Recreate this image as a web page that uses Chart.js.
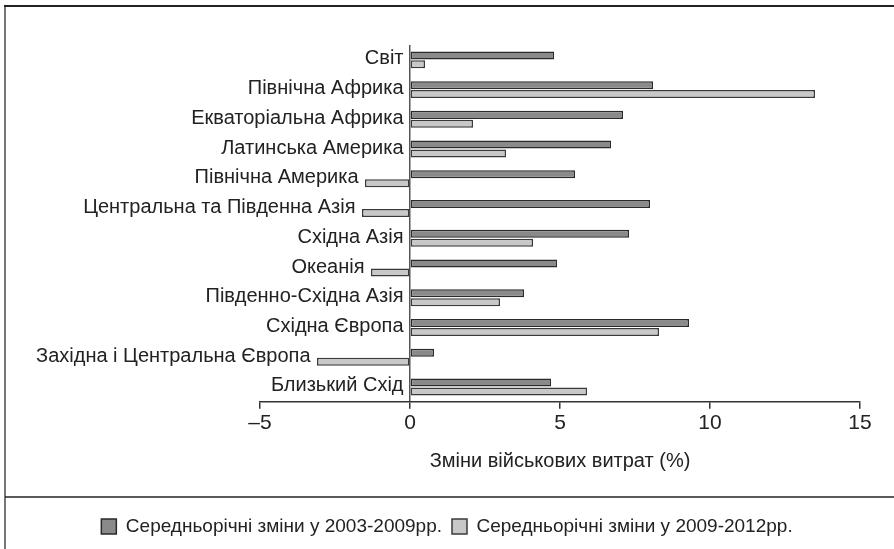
<!DOCTYPE html>
<html>
<head>
<meta charset="utf-8">
<script src="https://cdn.jsdelivr.net/npm/chart.js@4"></script>
<style>
  html, body { margin: 0; padding: 0; background: #fff; }
  #wrap { position: relative; width: 894px; height: 549px; }
</style>
</head>
<body>
<div id="wrap"><canvas id="myChart" width="894" height="549"></canvas></div>
<script>
// data
const regions = [
    'Світ',
    'Північна Африка',
    'Екваторіальна Африка',
    'Латинська Америка',
    'Північна Америка',
    'Центральна та Південна Азія',
    'Східна Азія',
    'Океанія',
    'Південно-Східна Азія',
    'Східна Європа',
    'Західна і Центральна Європа',
    'Близький Схід'
];
const change2003_2009 = [4.8, 8.1, 7.1, 6.7, 5.5, 8.0, 7.3, 4.9, 3.8, 9.3, 0.8, 4.7];
const change2009_2012 = [0.5, 13.5, 2.1, 3.2, -1.5, -1.6, 4.1, -1.3, 3.0, 8.3, -3.1, 5.9];
const seriesNames = ['Середньорічні зміни у 2003-2009рр.', 'Середньорічні зміни у 2009-2012рр.'];
const xTicks = [-5, 0, 5, 10, 15];
const xTitle = 'Зміни військових витрат (%)';

const FONT = "'Liberation Sans Narrow', 'Arial Narrow', 'Liberation Sans', Arial, sans-serif";
const INK = '#222';

// frame lines around the figure and the separator above the legend
const framePlugin = {
    id: 'frame',
    beforeDraw(chart) {
        const c = chart.ctx;
        c.save();
        c.strokeStyle = '#777';
        c.lineWidth = 2;
        c.beginPath();
        c.moveTo(5, 6);
        c.lineTo(5, 549);
        c.stroke();
        c.strokeStyle = '#222';
        c.beginPath();
        c.moveTo(4, 6);
        c.lineTo(894, 6);
        c.stroke();
        c.lineWidth = 1.5;
        c.beginPath();
        c.moveTo(5, 497);
        c.lineTo(894, 497);
        c.stroke();
        c.restore();
    }
};

// category labels sit just left of the zero line or of a negative bar
const labelPlugin = {
    id: 'catLabels',
    afterDatasetsDraw(chart) {
        const c = chart.ctx;
        const xs = chart.scales.x;
        const ys = chart.scales.y;
        c.save();
        c.font = '20px ' + FONT;
        c.fillStyle = INK;
        c.textAlign = 'right';
        c.textBaseline = 'middle';
        regions.forEach((name, i) => {
            const lo = Math.min(0, change2003_2009[i], change2009_2012[i]);
            const x = xs.getPixelForValue(lo) - 6.5;
            const y = ys.getPixelForValue(i) - 1;
            c.fillText(name, x, y);
        });
        c.restore();
    }
};

const ctx = document.getElementById('myChart');
new Chart(ctx, {
    type: 'bar',
    data: {
        labels: regions,
        datasets: [{
            label: seriesNames[0],
            data: change2003_2009,
            backgroundColor: '#8a8a8a',
            borderColor: '#2a2a2a',
            borderWidth: 1.5,
            borderSkipped: false
        }, {
            label: seriesNames[1],
            data: change2009_2012,
            backgroundColor: '#c8c8c8',
            borderColor: '#3a3a3a',
            borderWidth: 1.5,
            borderSkipped: false
        }]
    },
    options: {
        indexAxis: 'y',
        responsive: false,
        animation: false,
        categoryPercentage: 0.6,
        barPercentage: 0.9,
        layout: {
            padding: { left: 0, right: 0, top: 45, bottom: 3 }
        },
        scales: {
            x: {
                min: -5,
                max: 15,
                afterBuildTicks: (axis) => {
                    axis.ticks = xTicks.map(v => ({ value: v }));
                },
                border: { display: true, color: '#333', width: 1.5 },
                grid: {
                    color: (c) => (c.tick && c.tick.value === 0) ? '#555' : 'rgba(0,0,0,0)',
                    lineWidth: 1.5,
                    tickColor: '#333',
                    tickLength: 7,
                    drawOnChartArea: true
                },
                ticks: {
                    color: INK,
                    padding: 2,
                    font: { family: FONT, size: 21 },
                    callback: (v) => v < 0 ? '–' + Math.abs(v) : String(v)
                },
                title: {
                    display: true,
                    text: xTitle,
                    color: INK,
                    font: { family: FONT, size: 20 },
                    padding: { top: 11, bottom: 34 }
                }
            },
            y: {
                position: 'left',
                grid: { display: false },
                border: { display: false },
                ticks: { display: false },
                afterFit: (axis) => { axis.width = 260; }
            },
            yRight: {
                position: 'right',
                grid: { display: false },
                border: { display: false },
                ticks: { display: false },
                afterFit: (axis) => { axis.width = 34; }
            }
        },
        plugins: {
            legend: {
                position: 'bottom',
                labels: {
                    color: INK,
                    boxWidth: 15,
                    boxHeight: 15,
                    padding: 10,
                    font: { family: FONT, size: 19 }
                }
            },
            tooltip: { enabled: false }
        }
    },
    plugins: [framePlugin, labelPlugin]
});
</script>
</body>
</html>
